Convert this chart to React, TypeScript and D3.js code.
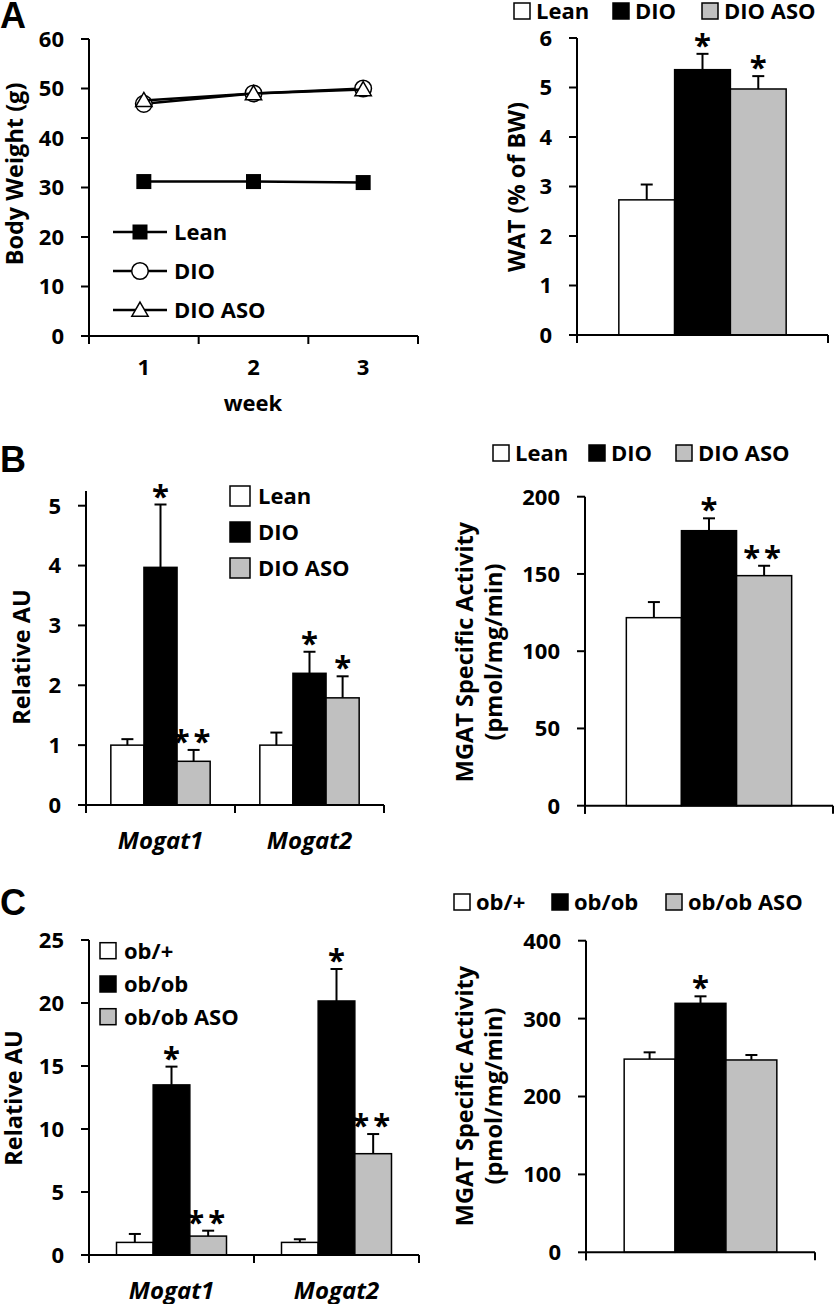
import React from "react";
import * as d3 from "d3";

const FONT = "'Open Sans', 'Liberation Sans', sans-serif";
const FS = 22;
const FS_LABEL = 23.5;

// ---------- Data ----------
const weeks = ["1", "2", "3"];
const bwLean = [31.2, 31.2, 31.0];
const bwDIO = [46.9, 49.0, 50.0];
const bwDIOASO = [47.6, 49.0, 49.8];

const dioGroups = ["Lean", "DIO", "DIO ASO"];
const obGroups = ["ob/+", "ob/ob", "ob/ob ASO"];
const genes = ["Mogat1", "Mogat2"];
const single = ["all"];

const watMean = [2.73, 5.36, 4.97];
const watErr = [0.31, 0.32, 0.26];
const watSig = ["", "*", "*"];

const dioMogat1Mean = [1.0, 3.97, 0.73];
const dioMogat1Err = [0.1, 1.05, 0.19];
const dioMogat1Sig = ["", "*", "**"];
const dioMogat2Mean = [1.0, 2.2, 1.79];
const dioMogat2Err = [0.21, 0.36, 0.36];
const dioMogat2Sig = ["", "*", "*"];

const dioMgatMean = [121.7, 178, 148.9];
const dioMgatErr = [10.1, 8, 6.4];
const dioMgatSig = ["", "*", "**"];

const obMogat1Mean = [1.0, 13.5, 1.5];
const obMogat1Err = [0.67, 1.45, 0.43];
const obMogat1Sig = ["", "*", "**"];
const obMogat2Mean = [1.0, 20.16, 8.04];
const obMogat2Err = [0.25, 2.54, 1.56];
const obMogat2Sig = ["", "*", "**"];

const obMgatMean = [248, 319.6, 246.9];
const obMgatErr = [8.7, 9, 6.4];
const obMgatSig = ["", "*", ""];

const fills = ["#ffffff", "#000000", "#c0c0c0"];

// ---------- Helpers ----------
type YAxisProps = { x: number; y: d3.ScaleLinear<number, number>; ticks: number[]; top?: number };
function YAxis({ x, y, ticks, top }: YAxisProps) {
  const yTop = top !== undefined ? top : y(ticks[ticks.length - 1]);
  return (
    <g>
      <line x1={x} x2={x} y1={yTop} y2={y(ticks[0]) + 8} stroke="#000" strokeWidth={2} />
      {ticks.map((t) => (
        <g key={t}>
          <line x1={x - 8} x2={x} y1={y(t)} y2={y(t)} stroke="#000" strokeWidth={2} />
          <text x={x - 25} y={y(t)} dy="0.36em" textAnchor="end" fontSize={FS} fontWeight="bold" fontFamily={FONT}>
            {t}
          </text>
        </g>
      ))}
    </g>
  );
}

function XAxis({ x, y0 }: { x: d3.ScaleBand<string>; y0: number }) {
  const [a, b] = x.range();
  const bounds = x.domain().map((d) => x(d) as number).concat([b]);
  return (
    <g>
      <line x1={a} x2={b} y1={y0} y2={y0} stroke="#000" strokeWidth={2} />
      {bounds.map((bx, i) => (
        <line key={i} x1={bx} x2={bx} y1={y0} y2={y0 + 8} stroke="#000" strokeWidth={2} />
      ))}
    </g>
  );
}

function Star({ x, y, s }: { x: number; y: number; s: string }) {
  if (!s) return null;
  return (
    <text x={x} y={y + 16} textAnchor="middle" fontSize={31} fontWeight="bold" fontFamily={FONT} letterSpacing={s.length > 1 ? 4 : 0}>
      {s}
    </text>
  );
}

type BarPanelProps = {
  xRange: [number, number];
  yDomain: [number, number];
  yRange: [number, number];
  step: number;
  axisTop?: number;
  cats: string[];
  groups: string[];
  means: number[][];
  errs: number[][];
  sigs: string[][];
  catLabelY?: number;
};
function BarPanel({ xRange, yDomain, yRange, step, axisTop, cats, groups, means, errs, sigs, catLabelY }: BarPanelProps) {
  const x = d3.scaleBand().domain(cats).range(xRange).padding(0);
  const inner = d3.scaleBand().domain(groups).range([0, x.bandwidth()]).paddingInner(0).paddingOuter(0.75);
  const y = d3.scaleLinear().domain(yDomain).range(yRange);
  const ticks = d3.range(yDomain[0], yDomain[1] + step / 2, step);
  return (
    <g>
      {cats.map((c, ci) => (
        <g key={c}>
          {groups.map((g, gi) => {
            const bx = (x(c) as number) + (inner(g) as number);
            const bw = inner.bandwidth();
            const v = means[ci][gi];
            const e = errs[ci][gi];
            const cx = bx + bw / 2;
            return (
              <g key={g}>
                <line x1={cx} x2={cx} y1={y(v)} y2={y(v + e)} stroke="#000" strokeWidth={2} />
                <line x1={cx - 6} x2={cx + 6} y1={y(v + e)} y2={y(v + e)} stroke="#000" strokeWidth={2} />
                <rect x={bx} y={y(v)} width={bw} height={y(0) - y(v)} fill={fills[gi]} stroke="#000" strokeWidth={1.5} />
                <Star x={cx} y={y(v + e) - 14} s={sigs[ci][gi]} />
              </g>
            );
          })}
          {catLabelY !== undefined && (
            <text
              x={(x(c) as number) + x.bandwidth() / 2}
              y={catLabelY}
              textAnchor="middle"
              fontSize={FS_LABEL + 0.5}
              fontWeight="bold"
              fontStyle="italic"
              fontFamily={FONT}
            >
              {c}
            </text>
          )}
        </g>
      ))}
      <XAxis x={x} y0={y(0)} />
      <YAxis x={xRange[0]} y={y} ticks={ticks} top={axisTop} />
    </g>
  );
}

function HLegend({ items, xs, y, box }: { items: string[]; xs: number[]; y: number; box: number }) {
  return (
    <g>
      {items.map((it, i) => (
        <g key={it}>
          <rect x={xs[i]} y={y - box / 2} width={box} height={box} fill={fills[i]} stroke="#000" strokeWidth={1.5} />
          <text x={xs[i] + box + 6} y={y} dy="0.36em" fontSize={FS} fontWeight="bold" fontFamily={FONT}>
            {it}
          </text>
        </g>
      ))}
    </g>
  );
}

function VLegend({ items, x, ys, box }: { items: string[]; x: number; ys: number[]; box: number }) {
  return (
    <g>
      {items.map((it, i) => (
        <g key={it}>
          <rect x={x} y={ys[i] - box / 2} width={box} height={box} fill={fills[i]} stroke="#000" strokeWidth={1.5} />
          <text x={x + box + 8} y={ys[i]} dy="0.36em" fontSize={FS} fontWeight="bold" fontFamily={FONT}>
            {it}
          </text>
        </g>
      ))}
    </g>
  );
}

function YLabel({ x, y, lines }: { x: number; y: number; lines: string[] }) {
  return (
    <text transform={`translate(${x},${y}) rotate(-90)`} textAnchor="middle" fontSize={FS_LABEL} fontWeight="bold" fontFamily={FONT}>
      {lines.map((l, i) => (
        <tspan key={i} x={0} dy={i === 0 ? `${0.36 - (lines.length - 1) * 0.6}em` : "1.2em"}>
          {l}
        </tspan>
      ))}
    </text>
  );
}

function Marker({ type, x, y }: { type: string; x: number; y: number }) {
  if (type === "square") return <rect x={x - 7.5} y={y - 7.5} width={15} height={15} fill="#000" />;
  if (type === "circle") return <circle cx={x} cy={y} r={8.3} fill="#fff" stroke="#000" strokeWidth={1.5} />;
  const p = d3.symbol(d3.symbolTriangle, 115)();
  return <path d={p as string} transform={`translate(${x},${y + 1.5})`} fill="#fff" stroke="#000" strokeWidth={1.5} />;
}

function LinePanel() {
  const x = d3.scaleBand().domain(weeks).range([89, 418]).padding(0);
  const y = d3.scaleLinear().domain([0, 60]).range([336, 39]);
  const ticks = d3.range(0, 61, 10);
  const cx = (w: string) => (x(w) as number) + x.bandwidth() / 2;
  const line = d3
    .line<number>()
    .x((_, i) => cx(weeks[i]))
    .y((v) => y(v));
  const series = [
    { name: "Lean", vals: bwLean, m: "square" },
    { name: "DIO", vals: bwDIO, m: "circle" },
    { name: "DIO ASO", vals: bwDIOASO, m: "triangle" },
  ];
  const legYs = [232, 271, 310];
  return (
    <g>
      {series.map((s) => (
        <g key={s.name}>
          <path d={line(s.vals) as string} fill="none" stroke="#000" strokeWidth={2.5} />
          {s.vals.map((v, i) => (
            <Marker key={i} type={s.m} x={cx(weeks[i])} y={y(v)} />
          ))}
        </g>
      ))}
      {series.map((s, i) => (
        <g key={"l" + s.name}>
          <line x1={113} x2={167} y1={legYs[i]} y2={legYs[i]} stroke="#000" strokeWidth={2.5} />
          <Marker type={s.m} x={140} y={legYs[i]} />
          <text x={174} y={legYs[i]} dy="0.36em" fontSize={FS} fontWeight="bold" fontFamily={FONT}>
            {s.name}
          </text>
        </g>
      ))}
      <XAxis x={x} y0={y(0)} />
      <YAxis x={89} y={y} ticks={ticks} />
      {weeks.map((w) => (
        <text key={w} x={cx(w)} y={367} dy="0.36em" textAnchor="middle" fontSize={FS} fontWeight="bold" fontFamily={FONT}>
          {w}
        </text>
      ))}
      <text x={253} y={411} textAnchor="middle" fontSize={FS} fontWeight="bold" fontFamily={FONT}>
        week
      </text>
      <YLabel x={15} y={174} lines={["Body Weight (g)"]} />
    </g>
  );
}

function PanelLetter({ x, y, t }: { x: number; y: number; t: string }) {
  return (
    <text x={x} y={y} fontSize={36} fontWeight="bold" fontFamily="'Liberation Sans', Arial, sans-serif">
      {t}
    </text>
  );
}

export default function App() {
  return (
    <svg width={836} height={1304} style={{ position: "absolute", left: 0, top: 0, background: "#fff" }}>
      <rect width={836} height={1304} fill="#fff" />
      {/* Panel A */}
      <PanelLetter x={0} y={28} t="A" />
      <LinePanel />
      <HLegend items={dioGroups} xs={[514, 613, 702]} y={11} box={16} />
      <BarPanel
        xRange={[577, 828]}
        yDomain={[0, 6]}
        yRange={[335, 38]}
        step={1}
        cats={single}
        groups={dioGroups}
        means={[watMean]}
        errs={[watErr]}
        sigs={[watSig]}
      />
      <YLabel x={517} y={187} lines={["WAT (% of BW)"]} />

      {/* Panel B */}
      <PanelLetter x={0} y={472} t="B" />
      <BarPanel
        xRange={[86, 384]}
        yDomain={[0, 5]}
        yRange={[805, 505.7]}
        step={1}
        axisTop={491}
        cats={genes}
        groups={dioGroups}
        means={[dioMogat1Mean, dioMogat2Mean]}
        errs={[dioMogat1Err, dioMogat2Err]}
        sigs={[dioMogat1Sig, dioMogat2Sig]}
        catLabelY={849}
      />
      <VLegend items={dioGroups} x={230} ys={[496, 532, 568]} box={20} />
      <YLabel x={22} y={657} lines={["Relative AU"]} />
      <HLegend items={dioGroups} xs={[493, 589, 676]} y={453} box={16} />
      <BarPanel
        xRange={[585, 833]}
        yDomain={[0, 200]}
        yRange={[805.7, 496.7]}
        step={50}
        cats={single}
        groups={dioGroups}
        means={[dioMgatMean]}
        errs={[dioMgatErr]}
        sigs={[dioMgatSig]}
      />
      <YLabel x={479} y={652} lines={["MGAT Specific Activity", "(pmol/mg/min)"]} />

      {/* Panel C */}
      <PanelLetter x={0} y={915} t="C" />
      <BarPanel
        xRange={[89, 419]}
        yDomain={[0, 25]}
        yRange={[1255, 940]}
        step={5}
        cats={genes}
        groups={obGroups}
        means={[obMogat1Mean, obMogat2Mean]}
        errs={[obMogat1Err, obMogat2Err]}
        sigs={[obMogat1Sig, obMogat2Sig]}
        catLabelY={1299}
      />
      <VLegend items={obGroups} x={100} ys={[950.7, 984, 1016.7]} box={16} />
      <YLabel x={14} y={1098} lines={["Relative AU"]} />
      <HLegend items={obGroups} xs={[454, 552, 666]} y={902} box={16} />
      <BarPanel
        xRange={[586, 815]}
        yDomain={[0, 400]}
        yRange={[1252.3, 940.7]}
        step={100}
        cats={single}
        groups={obGroups}
        means={[obMgatMean]}
        errs={[obMgatErr]}
        sigs={[obMgatSig]}
      />
      <YLabel x={479} y={1096} lines={["MGAT Specific Activity", "(pmol/mg/min)"]} />
    </svg>
  );
}
